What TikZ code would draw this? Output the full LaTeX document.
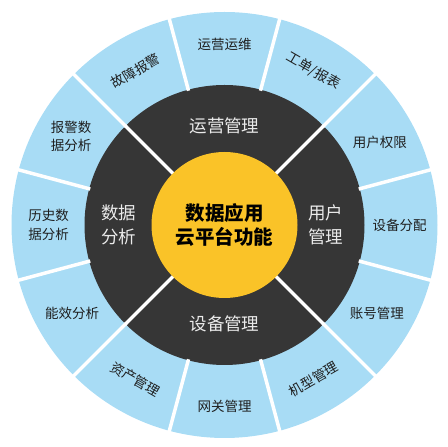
\documentclass[tikz,border=0pt]{standalone}
\usepackage{fontspec}
\setmainfont{Noto Sans CJK SC}
\definecolor{ringblue}{RGB}{168,220,245}
\definecolor{ringdark}{RGB}{54,54,54}
\definecolor{coreyellow}{RGB}{250,195,40}
\definecolor{outertext}{RGB}{30,30,30}
\definecolor{darktext}{RGB}{235,235,235}
\tikzset{
  sep/.style={draw=white,line width=3.5pt},
  outerlbl/.style={inner sep=0pt,align=center,text=outertext,font=\fontsize{13.5}{18.5}\selectfont},
  midlbl/.style={inner sep=0pt,align=center,text=darktext,font=\fontsize{17.5}{24}\selectfont},
  corelbl/.style={inner sep=0pt,align=center,text=black,font=\fontsize{19.5}{24}\selectfont\bfseries}
}
\begin{document}
\begin{tikzpicture}[x=1pt,y=1pt]
\useasboundingbox (0,0) rectangle (448,447);
\coordinate (c) at (224.5,222);
\fill[ringblue] (c) circle (213);
\fill[ringdark] (c) circle (140);
\foreach \a in {15,45,...,345} \draw[sep] ([shift={(\a:139)}]c) -- ([shift={(\a:216)}]c);
\foreach \a in {45,135,225,315} \draw[sep] ([shift={(\a:70)}]c) -- ([shift={(\a:141)}]c);
\fill[coreyellow] (c) circle (73);
% core
\node[corelbl] (core) at (c) {数据应用\\云平台功能};
% middle ring
\node[midlbl] (m1) at ([shift={(90:99)}]c) {运营管理};
\node[midlbl] (m2) at ([shift={(0:101)}]c) {用户\\管理};
\node[midlbl] (m3) at ([shift={(270:99)}]c) {设备管理};
\node[midlbl] (m4) at ([shift={(180:106)}]c) {数据\\分析};
% outer ring
\node[outerlbl] (o90) at ([shift={(90:181)}]c) {运营运维};
\node[outerlbl,rotate=-30] (o60) at ([shift={(60:178)}]c) {工单/报表};
\node[outerlbl] (o30) at ([shift={(28:176)}]c) {用户权限};
\node[outerlbl] (o0) at ([shift={(0:175)}]c) {设备分配};
\node[outerlbl] (o330) at ([shift={(-30:176)}]c) {账号管理};
\node[outerlbl,rotate=30] (o300) at ([shift={(-60:178)}]c) {机型管理};
\node[outerlbl] (o270) at ([shift={(-90:181)}]c) {网关管理};
\node[outerlbl,rotate=-30] (o240) at ([shift={(-120:178)}]c) {资产管理};
\node[outerlbl] (o210) at ([shift={(-150:176)}]c) {能效分析};
\node[outerlbl] (o180) at ([shift={(180:176)}]c) {历史数\\据分析};
\node[outerlbl] (o150) at ([shift={(150:177)}]c) {报警数\\据分析};
\node[outerlbl,rotate=30] (o120) at ([shift={(120:178)}]c) {故障报警};
\end{tikzpicture}
\end{document}
